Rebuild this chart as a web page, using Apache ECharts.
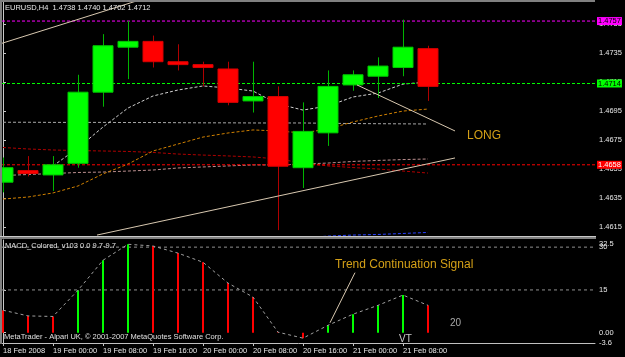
<!DOCTYPE html>
<html><head><meta charset="utf-8">
<script src="https://cdn.jsdelivr.net/npm/echarts@6/dist/echarts.min.js"></script>
<style>html,body{margin:0;padding:0;background:#000;}#c{width:625px;height:357px;}</style>
</head><body><div id="c"></div>
<script>
// ---------- data ----------
const symbolName = 'EURUSD,H4';
const timeLabels = ['18 Feb 2008','19 Feb 00:00','19 Feb 08:00','19 Feb 16:00','20 Feb 00:00','20 Feb 08:00','20 Feb 16:00','21 Feb 00:00','21 Feb 08:00'];
const timeLabelBars = [0,2,4,6,8,10,12,14,16];
const open  = [1.4646,1.4654,1.4651,1.4659,1.4708,1.4739,1.4743,1.4729,1.4727,1.4724,1.4702,1.4705,1.4656,1.4680,1.4713,1.4719,1.4725,1.4738];
const high  = [1.4663,1.4664,1.4664,1.4720,1.4748,1.4757,1.4747,1.4741,1.4729,1.4729,1.4729,1.4712,1.4701,1.4723,1.4723,1.4732,1.4758,1.4740];
const low   = [1.4639,1.4650,1.4640,1.4656,1.4698,1.4717,1.4725,1.4723,1.4712,1.4699,1.4694,1.4613,1.4642,1.4671,1.4709,1.4704,1.4719,1.4702];
const close = [1.4656,1.4652,1.4658,1.4708,1.4740,1.4743,1.4729,1.4727,1.4725,1.4701,1.4705,1.4657,1.4681,1.4712,1.4720,1.4726,1.4739,1.4712];
const maFast   = [null,null,1.46572,1.46696,1.46840,1.46971,1.47054,1.47095,1.47123,1.47109,1.47088,1.46999,1.46957,1.46985,1.47047,1.47074,1.47136,1.47150];
const maFlat   = [1.46873,1.46873,1.46872,1.46872,1.46872,1.46871,1.46871,1.46870,1.46869,1.46869,1.46868,1.46868,1.46868,1.46866,1.46864,1.46863,1.46862,1.46861];
const maRosy   = [1.46506,1.46513,1.46520,1.46527,1.46530,1.46537,1.46544,1.46558,1.46565,1.46572,1.46579,1.46579,1.46585,1.46592,1.46603,1.46610,1.46616,1.46620];
const maSlow   = [1.46699,1.46689,1.46682,1.46678,1.46675,1.46672,1.46665,1.46654,1.46647,1.46641,1.46634,1.46620,1.46592,1.46572,1.46561,1.46551,1.46537,1.46523];
const maOrange = [1.46344,1.46358,1.46386,1.46434,1.46517,1.46585,1.46675,1.46723,1.46771,1.46799,1.46820,1.46813,1.46799,1.46827,1.46875,1.46916,1.46950,1.46964];
const maBlue   = [null,null,null,null,null,null,null,null,null,null,null,null,1.46076,1.46089,1.46096,1.46100,1.46107,1.46114];
const priceLevels = [1.4757, 1.4714, 1.4658];
const priceTicks = [1.4615,1.4635,1.4655,1.4675,1.4695,1.4715,1.4735,1.4755];
const trendLineA = [[-0.04,1.47417],[6,1.47744]];
const trendLineB = [[3.76,1.46096],[18.08,1.46627]];
const trendLineC = [[14.16,1.47130],[18.08,1.46813]];
const macd = [7.9,5.9,5.7,14.9,25.4,31.0,30.4,27.9,24.7,17.4,12.5,0.2,-1.9,2.6,6.5,9.6,13.2,9.6];
const macdLevels = [30, 15];
const macdTicks = [-3.6, 0, 15, 30];
const macdMaxTick = [32.5];
const pointerLine = [[13.08,3.5],[14.08,21.05]];

// ---------- styles ----------
const levelColors = ['#ff00ff','#00ff00','#ff0000'];
const levelText = ['#000000','#000000','#ffffff'];
const FONT = '"Liberation Sans", Arial, sans-serif';
const fsSmall = 7.5;
const xMin = -0.04, xMax = 23.68;

const candleData = open.map((o,i)=>[i,o,close[i],low[i],high[i]]);
const pairs = arr => arr.map((v,i)=> v==null ? null : [i,v]).filter(p=>p);

function renderCandle(params, api){
  const i = api.value(0), o = api.value(1), c = api.value(2), l = api.value(3), h = api.value(4);
  const pO = api.coord([i,o]), pC = api.coord([i,c]), pL = api.coord([i,l]), pH = api.coord([i,h]);
  const w = Math.round(api.size([1,0])[0]*0.8);
  const up = c >= o;
  const cs = params.coordSys;
  const x = Math.round(pO[0]);
  let x0 = x - w/2, x1 = x + w/2;
  x0 = Math.max(x0, cs.x);
  const top = Math.min(pO[1],pC[1]), bot = Math.max(pO[1],pC[1]);
  const children = [];
  if (x >= cs.x) children.push({type:'line', shape:{x1:x+0.5,y1:pH[1],x2:x+0.5,y2:pL[1]}, style:{stroke: up?'#00b400':'#b00000', lineWidth:1}});
  children.push({type:'rect', shape:{x:x0, y:top, width:x1-x0, height:Math.max(bot-top,1.5)},
    style:{fill: up?'#00ff00':'#ff0000', stroke: up?'#00c800':'#d80000', lineWidth:1}});
  return {type:'group', children};
}

const dashed = (color) => ({color, width:1, type:[3,2]});
function maSeries(name, arr, color){
  return {name, type:'line', xAxisIndex:0, yAxisIndex:0, data:pairs(arr), symbol:'none', lineStyle:dashed(color), itemStyle:{color}, z:2, silent:true};
}
function tl(name, arr, color, xi, yi){
  return {name, type:'line', xAxisIndex:xi, yAxisIndex:yi, data:arr, symbol:'none', lineStyle:{color, width:1}, itemStyle:{color}, z:5, silent:true};
}
function levelSeries(k){
  const v = priceLevels[k];
  return {name:'level'+k, type:'line', xAxisIndex:0, yAxisIndex:0, data:[[xMin,v],[xMax,v]], symbol:'none', silent:true, z:3,
    lineStyle:{color:levelColors[k], width:1, type:[3,2]}, itemStyle:{color:levelColors[k]},
    endLabel:{show:true, formatter:v.toFixed(4), backgroundColor:levelColors[k], color:levelText[k], fontSize:fsSmall, fontFamily:FONT, lineHeight:8, padding:[0,1], distance:2}};
}
function macdLevelSeries(v){
  return {name:'ml'+v, type:'line', xAxisIndex:1, yAxisIndex:1, data:[[xMin,v],[xMax,v]], symbol:'none', silent:true, z:1,
    lineStyle:{color:'#909090', width:1, type:[3,3]}, itemStyle:{color:'#909090'}};
}

const option = {
  backgroundColor:'#000000',
  animation:false,
  grid:[
    {left:2, right:30, top:2, height:234},
    {left:2, right:30, top:240, height:103}
  ],
  xAxis:[
    {gridIndex:0, type:'value', min:xMin, max:xMax, position:'top', axisLine:{show:false}, axisTick:{show:false}, axisLabel:{show:false}, splitLine:{show:false}},
    {gridIndex:1, type:'value', min:xMin, max:xMax, position:'bottom',
      axisLine:{show:true, onZero:false, lineStyle:{color:'#c0c0c0'}},
      axisTick:{show:true, length:3, customValues:timeLabelBars, lineStyle:{color:'#c0c0c0'}},
      axisLabel:{show:true, customValues:timeLabelBars, formatter:v=>timeLabels[timeLabelBars.indexOf(Math.round(v))], align:'left', color:'#e8e8e8', fontSize:fsSmall, fontFamily:FONT, margin:4},
      splitLine:{show:false}}
  ],
  yAxis:[
    {gridIndex:0, type:'value', position:'right', min:1.460895, max:1.477013,
      axisLine:{show:true, lineStyle:{color:'#c8c8c8'}},
      axisTick:{show:true, length:3, customValues:priceTicks, lineStyle:{color:'#c8c8c8'}},
      axisLabel:{customValues:priceTicks, formatter:v=>v.toFixed(4), color:'#e8e8e8', fontSize:fsSmall, fontFamily:FONT, margin:4},
      splitLine:{show:false}},
    {gridIndex:1, type:'value', position:'right', min:-3.6, max:32.5,
      axisLine:{show:true, lineStyle:{color:'#c8c8c8'}},
      axisTick:{show:true, length:3, customValues:macdTicks, lineStyle:{color:'#c8c8c8'}},
      axisLabel:{customValues:macdTicks, formatter:v=> v===0 ? '0.00' : String(v), color:'#e8e8e8', fontSize:fsSmall, fontFamily:FONT, margin:4},
      splitLine:{show:false}},
    {gridIndex:1, type:'value', position:'right', min:-3.6, max:32.5,
      axisLine:{show:false}, axisTick:{show:false},
      axisLabel:{customValues:macdMaxTick, formatter:v=>String(v), color:'#e8e8e8', fontSize:fsSmall, fontFamily:FONT, margin:4, verticalAlign:'top'},
      splitLine:{show:false}}
  ],
  series:[
    maSeries('flat', maFlat, '#a8a8a8'),
    maSeries('rosy', maRosy, '#bc8f8f'),
    maSeries('slow', maSlow, '#b00000'),
    maSeries('orange', maOrange, '#d08000'),
    maSeries('blue', maBlue, '#2840ff'),
    maSeries('fast', maFast, '#d0d0d0'),
    levelSeries(0), levelSeries(1), levelSeries(2),
    {name:'candles', type:'custom', xAxisIndex:0, yAxisIndex:0, renderItem:renderCandle, data:candleData,
      encode:{x:0, y:[1,2,3,4]}, z:4, silent:true},
    tl('tlA', trendLineA, '#d8c8b0', 0, 0),
    tl('tlB', trendLineB, '#d8c8b0', 0, 0),
    tl('tlC', trendLineC, '#d8c8b0', 0, 0),
    macdLevelSeries(macdLevels[0]), macdLevelSeries(macdLevels[1]),
    {name:'macdBars', type:'bar', xAxisIndex:1, yAxisIndex:1, barWidth:2, silent:true,
      data: macd.map((v,i)=>({value:[i,v], itemStyle:{color: (i>0 && v>macd[i-1]) ? '#00ff00' : '#ff0000'}}))},
    {name:'macdLine', type:'line', xAxisIndex:1, yAxisIndex:1, data:macd.map((v,i)=>[i,v]), symbol:'none', silent:true,
      lineStyle:{color:'#a0a0a0', width:1, type:[3,3]}, itemStyle:{color:'#a0a0a0'}, z:3},
    tl('pointer', pointerLine, '#d8c8b0', 1, 1)
  ],
  graphic:{elements:[
    {type:'rect', shape:{x:0,y:0,width:595,height:2}, style:{fill:'#808080'}, z:100, silent:true},
    {type:'rect', shape:{x:0,y:0,width:2,height:344}, style:{fill:'#808080'}, z:100, silent:true},
    {type:'rect', shape:{x:0,y:236,width:596,height:1}, style:{fill:'#c8c8c8'}, z:100, silent:true},
    {type:'rect', shape:{x:0,y:237,width:596,height:2}, style:{fill:'#808080'}, z:100, silent:true},
    {type:'text', x:5, y:8, style:{text: symbolName+'  '+open[17].toFixed(4)+' '+high[17].toFixed(4)+' '+low[17].toFixed(4)+' '+close[17].toFixed(4), fill:'#e8e8e8', font: fsSmall+'px '+FONT, textVerticalAlign:'middle'}, z:101, silent:true},
    {type:'text', x:5, y:245.5, style:{text:'MACD_Colored_v103 0.0 9.7-9.7', fill:'#e0e0e0', font: fsSmall+'px '+FONT, textVerticalAlign:'middle'}, z:101, silent:true},
    {type:'text', x:4, y:337, style:{text:'MetaTrader - Alpari UK, \u00a9 2001-2007 MetaQuotes Software Corp.', fill:'#e0e0e0', font: fsSmall+'px '+FONT, textVerticalAlign:'middle'}, z:101, silent:true},
    {type:'text', x:467, y:136, style:{text:'LONG', fill:'#d4a017', font:'12px '+FONT, textVerticalAlign:'middle'}, z:101, silent:true},
    {type:'text', x:335, y:264.5, style:{text:'Trend Continuation Signal', fill:'#d4a017', font:'12px '+FONT, textVerticalAlign:'middle'}, z:101, silent:true},
    {type:'text', x:450, y:323.5, style:{text:'20', fill:'#a8a8a8', font:'10px '+FONT, textVerticalAlign:'middle'}, z:101, silent:true},
    {type:'text', x:399, y:339, style:{text:'VT', fill:'#c8c8c8', font:'10px '+FONT, textVerticalAlign:'middle'}, z:101, silent:true}
  ]}
};
const chart = echarts.init(document.getElementById('c'), null, {renderer:'canvas'});
chart.setOption(option);
</script>
</body></html>
